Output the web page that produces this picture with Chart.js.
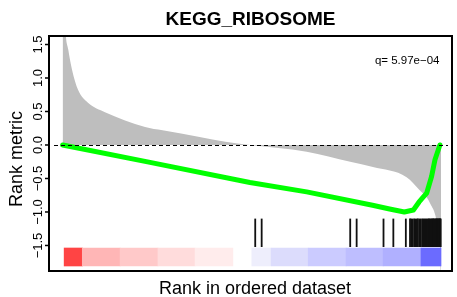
<!DOCTYPE html>
<html><head><meta charset="utf-8">
<script src="https://cdn.jsdelivr.net/npm/chart.js@4"></script>
<style>html,body{margin:0;padding:0;background:#fff}#wrap{width:457px;height:297px;position:relative}</style>
</head><body><div id="wrap"><canvas id="c" width="457" height="297"></canvas></div>
<script>
// ---- data ----
const metricRanks  = [0, 3, 7, 15, 25, 41, 67, 112, 218, 264, 362, 430, 495, 645, 760, 820, 909, 943, 962, 972, 985, 993, 998, 1000];
const metricValues = [3.5, 2.4, 1.75, 1.42, 1.12, 0.82, 0.63, 0.49, 0.27, 0.22, 0.12, 0.05, 0.0, -0.10, -0.25, -0.33, -0.48, -0.67, -0.78, -0.88, -1.05, -1.3, -1.6, -2.5];
const esRanks  = [0, 231, 495, 645, 819, 864, 903, 927, 942, 962, 975, 984, 997];
const esValues = [0, -0.26, -0.56, -0.70, -0.90, -0.955, -1.0, -0.97, -0.85, -0.72, -0.47, -0.22, 0];
const hitRanks = [509, 526, 760, 777, 848, 874, 907, 918, 921, 925, 929, 932, 936, 939, 943, 946, 950, 953, 956, 959, 962, 965, 968, 970, 973, 975, 977, 979, 981, 983, 985, 987, 988, 990, 991, 993, 994, 996, 997, 998, 999];
const binStarts = [4, 52, 152, 252, 350, 500, 551, 649, 749, 847, 947];
const binEnds   = [52, 152, 252, 350, 450, 551, 649, 749, 847, 947, 1000];
const yTickValues = [-1.5, -1.0, -0.5, 0.0, 0.5, 1.0, 1.5];
const yTickLabels = ['\u22121.5', '\u22121.0', '\u22120.5', '0.0', '0.5', '1.0', '1.5'];
const titleText = 'KEGG_RIBOSOME';
const xTitle = 'Rank in ordered dataset';
const yTitle = 'Rank metric';
const qText = 'q= 5.97e\u221204';

// ---- styles / layout ----
const binColors = ['#FF4444', '#FFB6B6', '#FFC9C9', '#FFDCDC', '#FFECEC', '#EEEEFC', '#DCDCFC', '#CBCBFF', '#BEBEFF', '#B0B0FF', '#6B6BFF'];
const xMin = -36, xMax = 1029, yMin = -1.881, yMax = 1.627;
const hitLo = -1.518, hitHi = -1.104;
const binY = -1.672;
const FONT = '"Liberation Sans", Arial, Helvetica, sans-serif';

const decor = {
  id: 'decor',
  afterDatasetsDraw(chart) {
    const {ctx, chartArea: a, scales: {y}} = chart;
    ctx.save();
    ctx.strokeStyle = '#000';
    ctx.lineWidth = 1.1;
    ctx.setLineDash([4, 3]);
    const y0 = Math.round(y.getPixelForValue(0)) + 0.5;
    ctx.beginPath(); ctx.moveTo(a.left + 5, y0); ctx.lineTo(a.right - 4, y0); ctx.stroke();
    ctx.restore();
  },
  afterDraw(chart) {
    const {ctx, chartArea: a, scales: {y}} = chart;
    ctx.save();
    ctx.strokeStyle = '#000';
    ctx.lineWidth = 2;
    ctx.strokeRect(a.left, a.top, a.right - a.left, a.bottom - a.top);
    ctx.lineWidth = 1.5;
    ctx.fillStyle = '#000';
    ctx.font = '13px ' + FONT;
    ctx.textAlign = 'center';
    ctx.textBaseline = 'alphabetic';
    yTickValues.forEach((v, i) => {
      const py = y.getPixelForValue(v);
      ctx.beginPath(); ctx.moveTo(a.left - 4, py); ctx.lineTo(a.left, py); ctx.stroke();
      ctx.save(); ctx.translate(41.6, py); ctx.rotate(-Math.PI / 2);
      ctx.fillText(yTickLabels[i], 0, 0); ctx.restore();
    });
    ctx.font = 'bold 19px ' + FONT;
    ctx.fillText(titleText, 250.5, 25);
    ctx.font = '18px ' + FONT;
    ctx.fillText(xTitle, 255, 294);
    ctx.save(); ctx.translate(22, 159); ctx.rotate(-Math.PI / 2);
    ctx.fillText(yTitle, 0, 0); ctx.restore();
    ctx.font = '11.5px ' + FONT;
    ctx.textAlign = 'right';
    ctx.fillText(qText, 439.5, 63.5);
    ctx.restore();
  }
};

new Chart(document.getElementById('c'), {
  type: 'line',
  data: {
    datasets: [
      {
        type: 'bar', label: 'hits', grouped: false, order: 0,
        data: hitRanks.map(r => ({x: r, y: [hitLo, hitHi]})),
        backgroundColor: '#111111', borderWidth: 0, barThickness: 1.15
      },
      {
        type: 'bar', label: 'bins', grouped: false, order: 1, indexAxis: 'y',
        data: binStarts.map((s, i) => ({y: binY, x: [s, binEnds[i]]})),
        backgroundColor: binColors, borderWidth: 0, barThickness: 18
      },
      {
        type: 'line', label: 'ES', order: 2,
        data: esRanks.map((r, i) => ({x: r, y: esValues[i]})),
        borderColor: '#00FF00', borderWidth: 5, pointRadius: 0, tension: 0,
        borderCapStyle: 'round', borderJoinStyle: 'round', fill: false
      },
      {
        type: 'line', label: 'metric', order: 3,
        data: metricRanks.map((r, i) => ({x: r, y: metricValues[i]})),
        borderWidth: 0, borderColor: 'rgba(0,0,0,0)', backgroundColor: '#BEBEBE',
        fill: 'origin', pointRadius: 0, cubicInterpolationMode: 'monotone'
      }
    ]
  },
  options: {
    responsive: false, animation: false, devicePixelRatio: 1,
    layout: {padding: {left: 49, top: 36, right: 5, bottom: 26}},
    plugins: {legend: {display: false}, tooltip: {enabled: false}, title: {display: false}},
    scales: {
      x: {type: 'linear', min: xMin, max: xMax, offset: false, display: false},
      y: {type: 'linear', min: yMin, max: yMax, offset: false, display: false}
    }
  },
  plugins: [decor]
});
</script></body></html>
